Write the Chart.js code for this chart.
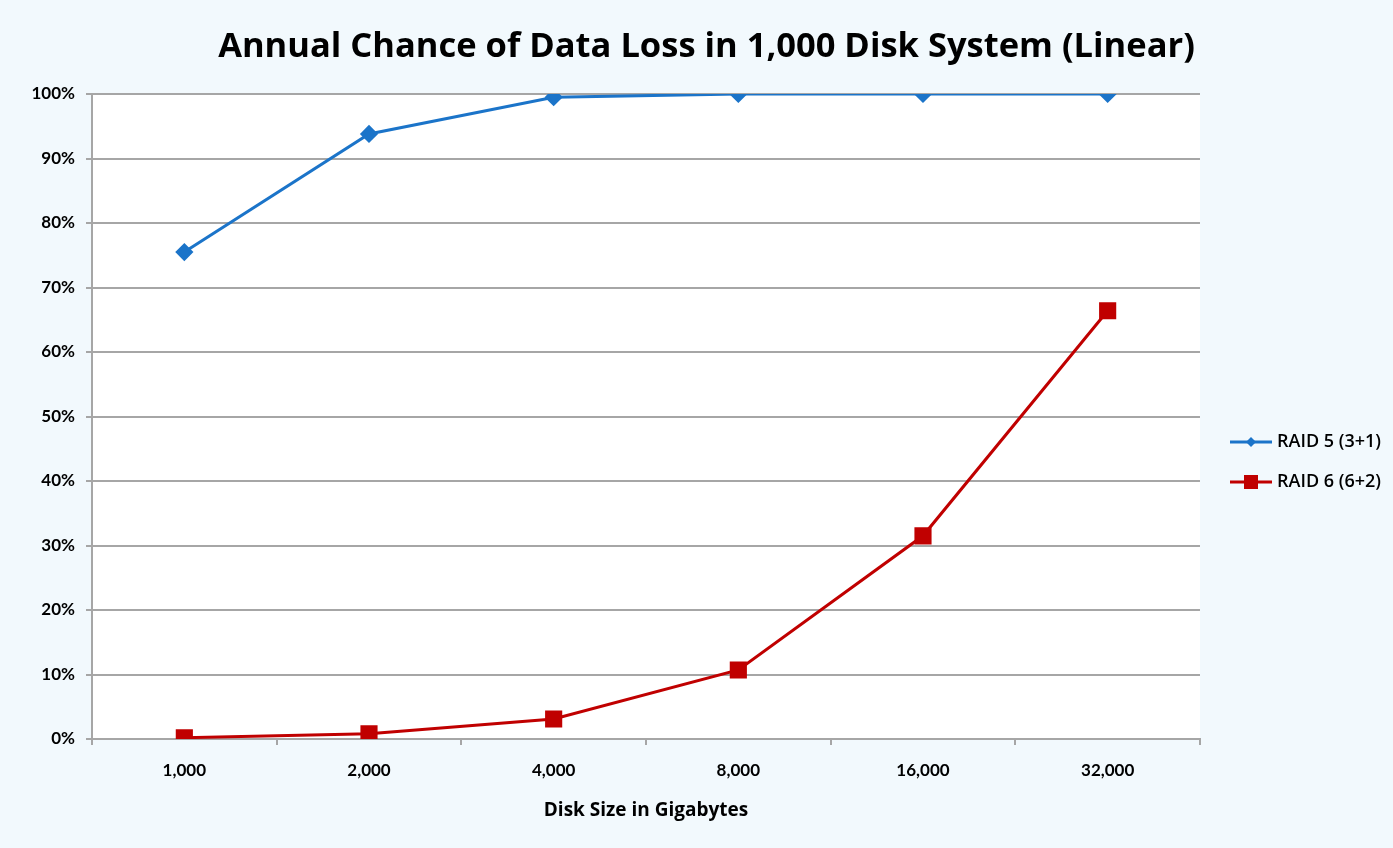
<!DOCTYPE html>
<html>
<head>
<meta charset="utf-8">
<script src="https://cdn.jsdelivr.net/npm/chart.js@4.4.1/dist/chart.umd.min.js"></script>
<style>
  html, body { margin: 0; padding: 0; background: #f2f9fd; }
  #wrap { width: 1393px; height: 848px; position: relative; }
</style>
</head>
<body>
<div id="wrap"><canvas id="c" width="1393" height="848"></canvas></div>
<script>
// Disk sizes (GB) on the category axis
const diskSizes = ['1,000', '2,000', '4,000', '8,000', '16,000', '32,000'];
// Annual probability of data loss, percent
const raid5 = [75.5, 93.8, 99.5, 100, 100, 100];
const raid6 = [0.2, 0.8, 3.1, 10.7, 31.5, 66.4];
const seriesNames = ['RAID 5 (3+1)', 'RAID 6 (6+2)'];
const yTicks = [0, 10, 20, 30, 40, 50, 60, 70, 80, 90, 100];

const BLUE = '#1b74c9';
const RED = '#c00000';
const GRID = '#a6a6a6';
const TICK_FONT = 'Lato, "Open Sans", sans-serif';
const HEAD_FONT = '"Open Sans", Lato, sans-serif';

// Legend glyph: short line with the series marker in the middle
function legendGlyph(color, shape) {
  const cv = document.createElement('canvas');
  cv.width = 42; cv.height = 16;
  const g = cv.getContext('2d');
  g.strokeStyle = color; g.lineWidth = 3;
  g.beginPath(); g.moveTo(0, 8); g.lineTo(42, 8); g.stroke();
  g.fillStyle = color;
  if (shape === 'diamond') {
    g.beginPath(); g.moveTo(21, 3); g.lineTo(26, 8); g.lineTo(21, 13); g.lineTo(16, 8); g.closePath(); g.fill();
  } else {
    g.fillRect(14, 1, 14, 14);
  }
  return cv;
}
const glyphs = [legendGlyph(BLUE, 'diamond'), legendGlyph(RED, 'square')];

const canvasBg = {
  id: 'canvasBg',
  beforeDraw(chart) {
    const { ctx, chartArea: a } = chart;
    ctx.save();
    ctx.fillStyle = '#f2f9fd';
    ctx.fillRect(0, 0, chart.width, chart.height);
    ctx.fillStyle = '#ffffff';
    ctx.fillRect(a.left, a.top, a.right - a.left, a.bottom - a.top);
    ctx.restore();
  }
};

// Title centred over the plot; legend a little below the plot's middle
const boxNudge = {
  id: 'boxNudge',
  afterLayout(chart) {
    const t = chart.titleBlock;
    t.left += 17; t.right += 17;
    const lg = chart.legend;
    const dx = 1234 - (lg.left + 22);
    lg.left += dx; lg.right += dx;
    lg.top += 38; lg.bottom += 38;
  }
};

new Chart(document.getElementById('c'), {
  type: 'line',
  data: {
    labels: diskSizes,
    datasets: [
      {
        label: seriesNames[0], data: raid5,
        borderColor: BLUE, backgroundColor: BLUE, borderWidth: 3,
        pointStyle: 'rectRot', pointRadius: 7, pointHoverRadius: 7,
        tension: 0
      },
      {
        label: seriesNames[1], data: raid6,
        borderColor: RED, backgroundColor: RED, borderWidth: 3,
        pointStyle: 'rect', pointRadius: 10, pointHoverRadius: 10,
        tension: 0
      }
    ]
  },
  options: {
    responsive: false,
    animation: false,
    layout: { padding: { left: 0, right: 14, top: 0, bottom: 0 } },
    plugins: {
      title: {
        display: true,
        text: 'Annual Chance of Data Loss in 1,000 Disk System (Linear)',
        color: '#000',
        font: { family: HEAD_FONT, size: 34.5, weight: 'bold' },
        padding: { top: 26, bottom: 26.6 }
      },
      legend: {
        position: 'right',
        align: 'center',
        labels: {
          usePointStyle: true,
          pointStyleWidth: 34,
          padding: 22,
          color: '#000',
          font: { family: HEAD_FONT, size: 18, weight: '600' },
          generateLabels(chart) {
            return chart.data.datasets.map((ds, i) => ({
              text: ds.label,
              pointStyle: glyphs[i],
              fillStyle: ds.borderColor,
              strokeStyle: ds.borderColor,
              lineWidth: 0,
              hidden: false,
              datasetIndex: i
            }));
          }
        }
      },
      tooltip: { enabled: false }
    },
    scales: {
      x: {
        type: 'category',
        offset: true,
        grid: { offset: true, drawOnChartArea: false, color: GRID, lineWidth: 2, tickLength: 6 },
        border: { color: GRID, width: 2 },
        ticks: { color: '#000', font: { family: TICK_FONT, size: 17, weight: 'bold' }, padding: 15, maxRotation: 0 },
        title: {
          display: true, text: 'Disk Size in Gigabytes', color: '#000',
          font: { family: HEAD_FONT, size: 19, weight: 'bold' },
          padding: { top: 4, bottom: 26 }
        },
        afterFit(scale) { scale.height = 109; }
      },
      y: {
        min: 0, max: 100,
        afterBuildTicks(scale) { scale.ticks = yTicks.map(v => ({ value: v })); },
        grid: { color: GRID, lineWidth: 2, tickLength: 6 },
        border: { color: GRID, width: 2 },
        ticks: {
          color: '#000', padding: 11,
          font: { family: TICK_FONT, size: 17, weight: 'bold' },
          callback: v => v + '%'
        },
        afterFit(scale) { scale.width = 92; }
      }
    }
  },
  plugins: [canvasBg, boxNudge]
});
</script>
</body>
</html>
